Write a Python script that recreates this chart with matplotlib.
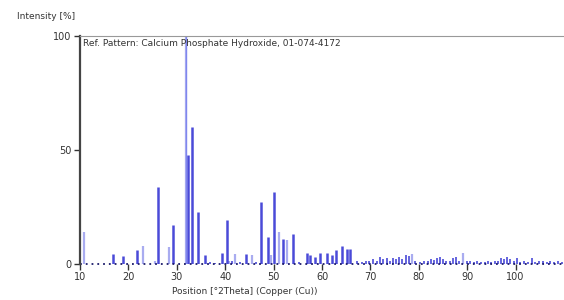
import numpy as np
import matplotlib
matplotlib.use("Agg")
import matplotlib.pyplot as plt

# reference pattern peaks: position [deg 2Theta], relative intensity [%]
dark_pos = [16.8, 18.8, 21.8, 26.0, 29.1, 32.4, 33.2, 34.3, 35.8, 39.4, 40.3,
            44.3, 47.3, 48.8, 50.1, 52.0, 53.9, 56.8, 57.6, 58.6, 59.6, 61.1,
            62.1, 62.9, 64.1, 65.1, 65.8]
dark_int = [4.5, 3.3, 6.2, 33.6, 17.3, 48.0, 60.0, 22.8, 3.8, 5.0, 19.3,
            4.2, 27.0, 11.8, 31.6, 10.8, 13.0, 5.0, 4.0, 3.0, 4.7, 4.7,
            4.0, 6.0, 7.9, 6.4, 6.4]

light_pos = [10.8, 22.9, 25.5, 28.4, 31.8, 40.8, 42.1, 45.6, 49.5, 51.2, 52.8, 78.6, 89.2]
light_int = [14.0, 7.8, 1.5, 7.6, 100.0, 1.5, 4.5, 3.8, 4.0, 14.2, 10.5, 4.5, 5.0]

small_pos = [36.8, 37.9, 41.3, 43.0, 46.4, 55.2, 67.2, 68.2, 69.0, 69.8, 70.6,
             71.3, 72.0, 72.6, 73.4, 74.0, 74.7, 75.3, 76.0, 76.6, 77.3, 77.9,
             79.2, 80.2, 81.0, 81.8, 82.5, 83.1, 83.8, 84.4, 85.0, 85.7, 86.4,
             87.1, 87.7, 88.4, 89.9, 90.6, 91.3, 92.0, 92.8, 93.6, 94.3, 95.0,
             95.7, 96.4, 97.0, 97.6, 98.2, 98.9, 99.6, 100.2, 100.9, 101.7,
             102.5, 103.3, 104.0, 104.8, 105.6, 106.4, 107.2, 108.0, 108.8, 109.5]
small_int = [0.8, 0.6, 1.2, 1.0, 0.8, 1.0, 1.2, 1.0, 1.5, 1.2, 2.0,
             1.5, 3.0, 2.0, 2.5, 1.5, 2.8, 2.0, 3.0, 2.2, 4.0, 3.5,
             1.2, 0.8, 1.2, 1.5, 2.0, 1.8, 2.5, 3.0, 2.0, 1.5, 1.2,
             2.5, 3.0, 1.5, 1.5, 1.2, 1.0, 1.2, 1.0, 1.0, 1.2, 1.0,
             1.2, 1.5, 2.5, 2.0, 3.0, 2.0, 1.5, 2.5, 1.0, 1.2,
             1.0, 2.5, 1.0, 1.5, 1.2, 1.0, 1.5, 1.0, 1.2, 1.0]

xticks = [10, 20, 30, 40, 50, 60, 70, 80, 90, 100]
yticks = [0, 50, 100]

dark = "#4a4ad8"
light = "#a9acf0"
txt = "#333333"

fig = plt.figure(figsize=(5.64, 3.0), dpi=100)
ax = fig.add_axes([0.142, 0.12, 0.858, 0.76])

ax.vlines(light_pos, 0, light_int, color=light, lw=1.6)
ax.vlines(31.8, 0, 100, color="#7f86ee", lw=0.9)
ax.vlines(dark_pos, 0, dark_int, color=dark, lw=1.8)
ax.vlines(small_pos, 0, small_int, color=dark, lw=1.2)
ax.axhline(0, color="#1a1a6a", lw=1.3, ls=(0, (1, 2.2)), clip_on=False)

ax.set_xlim(10, 110)
ax.set_ylim(0, 100)
ax.set_xticks(xticks)
ax.set_yticks(yticks)
ax.tick_params(axis="both", labelsize=7, colors=txt, length=4, width=1, pad=2)

for s in ["right", "bottom"]:
    ax.spines[s].set_visible(False)
ax.spines["left"].set_color("#444444")
ax.spines["left"].set_linewidth(1.6)
ax.spines["top"].set_color("#999999")
ax.spines["top"].set_linewidth(0.8)

ax.text(0.006, 0.985, "Ref. Pattern: Calcium Phosphate Hydroxide, 01-074-4172",
        transform=ax.transAxes, ha="left", va="top", fontsize=6.5, color=txt)
fig.text(0.03, 0.945, "Intensity [%]", ha="left", va="center", fontsize=6.5, color=txt)
fig.text(0.434, 0.028, "Position [°2Theta] (Copper (Cu))", ha="center", va="center",
         fontsize=6.5, color=txt)

fig.savefig("out.png", dpi=100)
